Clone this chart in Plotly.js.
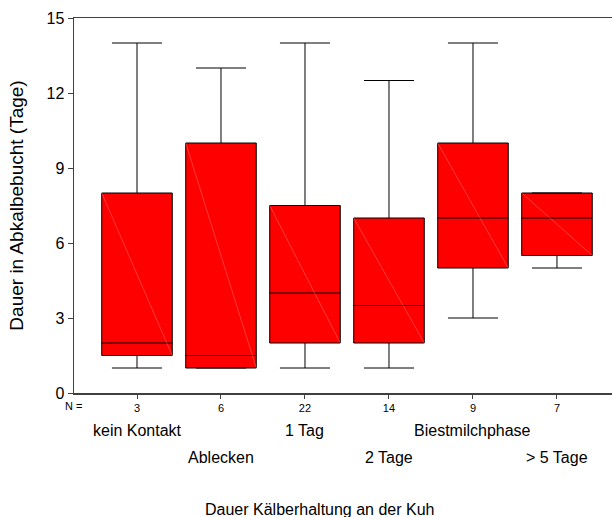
<!DOCTYPE html>
<html>
<head>
<meta charset="utf-8">
<script src="https://cdn.plot.ly/plotly-3.0.1.min.js"></script>
<style>html,body{margin:0;padding:0;background:#fff;}#chart{width:613px;height:517px;}</style>
</head>
<body>
<div id="chart"></div>
<script>
// Data
const categories = ["kein Kontakt", "Ablecken", "1 Tag", "2 Tage", "Biestmilchphase", "> 5 Tage"];
const nCounts = [3, 6, 22, 14, 9, 7];
const lowerWhisker = [1, 1, 1, 1, 3, 5];
const q1Values = [1.5, 1, 2, 2, 5, 5.5];
const medianValues = [2, 1.5, 4, 3.5, 7, 7];
const q3Values = [8, 10, 7.5, 7, 10, 8];
const upperWhisker = [14, 13, 14, 12.5, 14, 8];
const yTicks = [0, 3, 6, 9, 12, 15];
const xTitle = 'Dauer Kälberhaltung an der Kuh';
const yTitle = 'Dauer in Abkalbebucht (Tage)';

const positions = categories.map((c, i) => i + 1);
const boxWidth = 0.84;
const fontFam = 'Liberation Sans, Arial, sans-serif';

const traces = [{
  type: 'box',
  x: positions,
  q1: q1Values,
  median: medianValues,
  q3: q3Values,
  lowerfence: lowerWhisker,
  upperfence: upperWhisker,
  width: boxWidth,
  whiskerwidth: 0.71,
  fillcolor: '#ff0000',
  line: {color: '#000000', width: 1},
  hoverinfo: 'skip',
  showlegend: false
}];

// faint diagonal artefact lines inside each box
positions.forEach((p, i) => {
  traces.push({
    type: 'scatter', mode: 'lines',
    x: [p - boxWidth / 2, p + boxWidth / 2],
    y: [q3Values[i], q1Values[i]],
    line: {color: 'rgba(255,175,175,0.55)', width: 0.6},
    hoverinfo: 'skip', showlegend: false
  });
});

const annotations = [{
  text: 'N =', xref: 'paper', yref: 'paper',
  x: (73 - 74) / 538, y: (393 - 406) / 375,
  xanchor: 'center', yanchor: 'middle', showarrow: false,
  font: {family: fontFam, size: 11, color: '#000'}
}, {
  text: xTitle, xref: 'paper', yref: 'paper',
  x: (320 - 74) / 538, y: (393 - 509) / 375,
  xanchor: 'center', yanchor: 'middle', showarrow: false,
  font: {family: fontFam, size: 16, color: '#000'}
}];
categories.forEach((c, i) => {
  const row = i % 2;
  annotations.push({
    text: c, xref: 'x', yref: 'paper',
    x: positions[i], y: row === 0 ? (393 - 430) / 375 : (393 - 457) / 375,
    xanchor: 'center', yanchor: 'middle', showarrow: false,
    font: {family: fontFam, size: 16, color: '#000'}
  });
});

const layout = {
  width: 613, height: 517,
  margin: {l: 74, r: 1, t: 18, b: 124},
  paper_bgcolor: '#ffffff', plot_bgcolor: '#ffffff',
  font: {family: fontFam, color: '#000'},
  showlegend: false,
  xaxis: {
    range: [0.25, 6.655],
    tickvals: positions,
    ticktext: nCounts.map(String),
    tickfont: {size: 11},
    ticks: 'outside', ticklen: 4, tickcolor: '#404040',
    showline: true, linecolor: '#404040', linewidth: 1.5, mirror: true,
    showgrid: false, zeroline: false
  },
  yaxis: {
    range: [0, 15],
    tickvals: yTicks,
    ticktext: yTicks.map(String),
    tickfont: {size: 16},
    ticks: 'outside', ticklen: 5, tickcolor: '#404040',
    showline: true, linecolor: '#404040', linewidth: 1.5,
    showgrid: false, zeroline: false,
    title: {text: yTitle, font: {size: 19}, standoff: 18}
  },
  annotations: annotations
};

Plotly.newPlot('chart', traces, layout, {displayModeBar: false, staticPlot: true});
</script>
</body>
</html>
